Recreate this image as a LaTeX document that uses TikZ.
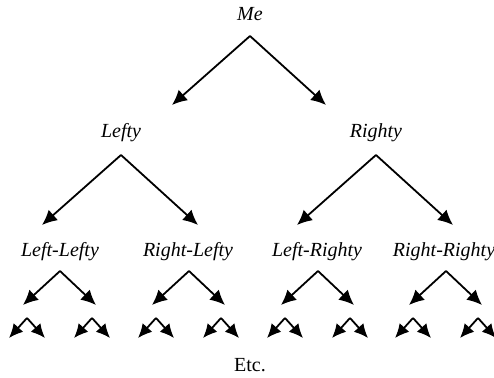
\documentclass[tikz,border=0pt]{standalone}
\usepackage{fontspec}
\setmainfont{Liberation Serif}
\usetikzlibrary{arrows.meta}
\tikzset{
  lbl/.style={font=\fontsize{20}{23}\selectfont\itshape, inner sep=0pt},
  etc/.style={font=\fontsize{20}{23}\selectfont, inner sep=0pt},
  arr/.style={line width=1.8pt, -{Latex[length=15pt,width=14pt]}},
  sarr/.style={line width=1.8pt, -{Latex[length=14pt,width=13pt]}}
}
\begin{document}
\begin{tikzpicture}[x=1pt,y=-1pt]
\useasboundingbox (0,0) rectangle (494,377);
% level 0
\node[lbl] (me) at (250,14) {Me};
\coordinate (meA) at (250,36);
\coordinate (meL) at (172,105);
\coordinate (meR) at (326,105);
\draw[arr] (meA) -- (meL);
\draw[arr] (meA) -- (meR);
% level 1
\node[lbl] (lefty) at (121,133) {Lefty};
\node[lbl] (righty) at (376,133) {Righty};
\foreach \n/\x in {lefty/121, righty/376}{
  \coordinate (\n A) at (\x,155);
  \coordinate (\n L) at (\x-79,225);
  \coordinate (\n R) at (\x+77,225);
  \draw[arr] (\n A) -- (\n L);
  \draw[arr] (\n A) -- (\n R);
}
% level 2
\node[lbl] (ll) at (60,252) {Left-Lefty};
\node[lbl] (rl) at (188,252) {Right-Lefty};
\node[lbl] (lr) at (317,252) {Left-Righty};
\node[lbl] (rr) at (444,252) {Right-Righty};
\foreach \n/\x in {ll/60, rl/189, lr/318, rr/446}{
  \coordinate (\n A) at (\x,271);
  \coordinate (\n L) at (\x-37,305);
  \coordinate (\n R) at (\x+36,305);
  \draw[arr] (\n A) -- (\n L);
  \draw[arr] (\n A) -- (\n R);
  % level 3
  \coordinate (\n a) at (\x-33,318);
  \coordinate (\n aL) at (\x-51,338);
  \coordinate (\n aR) at (\x-15,338);
  \draw[sarr] (\n a) -- (\n aL);
  \draw[sarr] (\n a) -- (\n aR);
  \coordinate (\n b) at (\x+32,318);
  \coordinate (\n bL) at (\x+14,338);
  \coordinate (\n bR) at (\x+50,338);
  \draw[sarr] (\n b) -- (\n bL);
  \draw[sarr] (\n b) -- (\n bR);
}
\node[etc] (etc) at (250,365) {Etc.};
\end{tikzpicture}
\end{document}
